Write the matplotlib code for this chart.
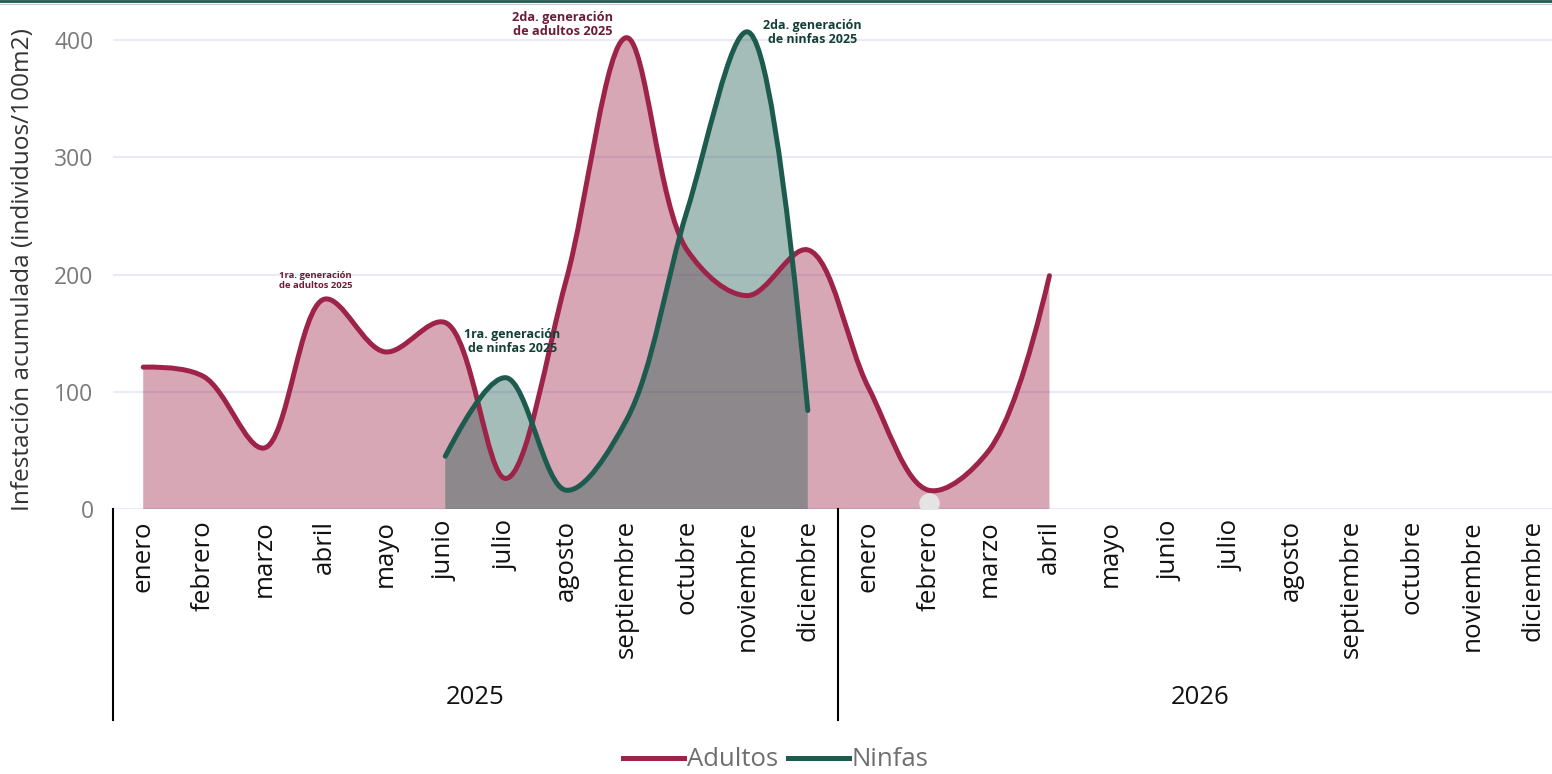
import numpy as np
import matplotlib.pyplot as plt
from matplotlib.path import Path
from matplotlib.patches import PathPatch
from matplotlib.lines import Line2D
from matplotlib.transforms import blended_transform_factory

plt.rcParams['font.family'] = ['Open Sans', 'DejaVu Sans']

# datos
meses = ['enero', 'febrero', 'marzo', 'abril', 'mayo', 'junio', 'julio',
         'agosto', 'septiembre', 'octubre', 'noviembre', 'diciembre']
anios = ['2025', '2026']
adultos = [121, 113, 52, 179, 134, 159, 26, 195, 402, 221, 182, 221,
           104, 16, 50, 199]
ninfas_inicio = 5  # junio 2025
ninfas = [45, 112, 16, 76, 254, 407, 84]
marcador_gris = (13, 5)

C_ADU = '#9e2349'
C_NIN = '#1e5b4f'

# escala en pixeles (para suavizar como plotly)
SX, SY = 60.4, 1.1725


def tangente(p0, p1, p2):
    d1 = p0 - p1
    d2 = p2 - p1
    d1a = np.hypot(*d1) ** 0.5
    d2a = np.hypot(*d2) ** 0.5
    num = d2a * d2a * d1 - d1a * d1a * d2
    den1 = 3 * d2a * (d1a + d2a)
    den2 = 3 * d1a * (d1a + d2a)
    return p1 + num / den1, p1 - num / den2


def curva(xs, ys, relleno=False):
    pts = np.column_stack([np.asarray(xs, float) * SX, np.asarray(ys, float) * SY])
    tg = [tangente(pts[i - 1], pts[i], pts[i + 1]) for i in range(1, len(pts) - 1)]
    verts = [pts[0], tg[0][0], pts[1]]
    codes = [Path.MOVETO, Path.CURVE3, Path.CURVE3]
    for i in range(2, len(pts) - 1):
        verts += [tg[i - 2][1], tg[i - 1][0], pts[i]]
        codes += [Path.CURVE4] * 3
    verts += [tg[-1][1], pts[-1]]
    codes += [Path.CURVE3] * 2
    if relleno:
        verts += [(pts[-1][0], 0), (pts[0][0], 0), pts[0]]
        codes += [Path.LINETO, Path.LINETO, Path.CLOSEPOLY]
    verts = np.array(verts) / [SX, SY]
    return Path(verts, codes)


fig = plt.figure(figsize=(15.52, 7.74), dpi=100)
ax = fig.add_axes([113 / 1552, 1 - 509 / 774, 1450 / 1552, 499 / 774])

x_adu = np.arange(len(adultos))
x_nin = np.arange(len(ninfas)) + ninfas_inicio

ax.add_patch(PathPatch(curva(x_adu, adultos, True), fc=C_ADU, ec='none', alpha=0.4, zorder=1))
ax.add_patch(PathPatch(curva(x_nin, ninfas, True), fc=C_NIN, ec='none', alpha=0.4, zorder=1))
ax.add_patch(PathPatch(curva(x_adu, adultos), fc='none', ec=C_ADU, lw=3.6, zorder=3,
                       capstyle='round', joinstyle='round'))
ax.add_patch(PathPatch(curva(x_nin, ninfas), fc='none', ec=C_NIN, lw=3.6, zorder=3,
                       capstyle='round', joinstyle='round'))
ax.scatter([marcador_gris[0]], [marcador_gris[1]], s=190, color='#e4e4e4', zorder=4)

ax.set_xlim(-0.5, 23.5)
ax.set_ylim(0, 425.6)
ax.set_yticks([0, 100, 200, 300, 400])
ax.grid(axis='y', color='#ebe8f8', lw=1.5, zorder=0)
ax.set_axisbelow(True)
for s in ax.spines.values():
    s.set_visible(False)
ax.tick_params(axis='y', length=0, pad=14, labelsize=16.5, labelcolor='#7a7a7a')
ax.set_xticks(np.arange(24))
ax.set_xticklabels(meses * 2, rotation=90, fontsize=18.6, color='#111111')
ax.tick_params(axis='x', length=0, pad=8)
ax.set_ylabel('Infestación acumulada (individuos/100m2)', fontsize=17.6, color='#333333')
ax.yaxis.set_label_coords(-0.054, 0.48)

# eje de años
tr = blended_transform_factory(ax.transData, ax.transAxes)
for k, a in enumerate(anios):
    ax.text(k * 12 + 5.5, -0.378, a, transform=tr, ha='center', va='center',
            fontsize=18.5, color='#111111')
for xb in [-0.5, 11.5, 23.5]:
    ax.add_line(Line2D([xb, xb], [0, -0.423], transform=tr, color='black', lw=1.5,
                       clip_on=False))

# anotaciones
ax.text(2.85, 195, '1ra. generación\nde adultos 2025', ha='center', va='center',
        fontsize=6.8, fontweight='bold', color='#6e1b37', linespacing=1.1)
ax.text(6.11, 143, '1ra. generación\nde ninfas 2025', ha='center', va='center',
        fontsize=9, fontweight='bold', color='#123f36', linespacing=1.1)
ax.text(6.94, 413, '2da. generación\nde adultos 2025', ha='center', va='center',
        fontsize=9.2, fontweight='bold', color='#6e1b37', linespacing=1.1)
ax.text(11.08, 406, '2da. generación\nde ninfas 2025', ha='center', va='center',
        fontsize=9, fontweight='bold', color='#123f36', linespacing=1.1)

# leyenda
h = [Line2D([], [], color=C_ADU, lw=3.6), Line2D([], [], color=C_NIN, lw=3.6)]
leg = fig.legend(h, ['Adultos', 'Ninfas'], loc='center', bbox_to_anchor=(0.5, 1 - 760 / 774),
                 ncol=2, frameon=False, fontsize=18.5, handlelength=2.35, handletextpad=0.12,
                 columnspacing=0.4, borderpad=0.2)
for t in leg.get_texts():
    t.set_color('#6f6f6f')

# bordes superiores
fig.add_artist(Line2D([0, 1], [1 - 1 / 774, 1 - 1 / 774], color='#1e5b4f', lw=2))
fig.add_artist(Line2D([0, 1], [1 - 3.5 / 774, 1 - 3.5 / 774], color='#c8c8c8', lw=0.8))

fig.savefig('out.png', dpi=100)
